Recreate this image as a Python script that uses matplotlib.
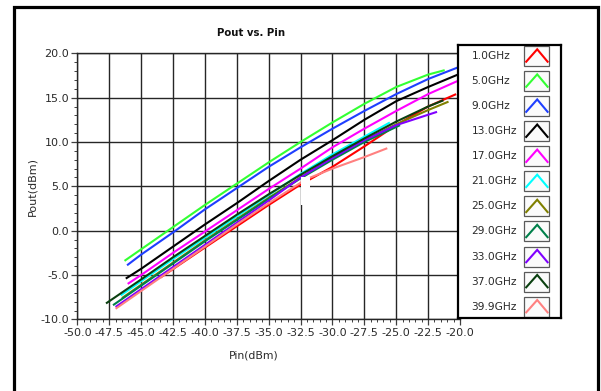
import matplotlib
matplotlib.use("Agg")
import matplotlib.pyplot as plt
import numpy as np
from matplotlib.patches import Rectangle
from matplotlib.ticker import MultipleLocator, FormatStrFormatter

# Output power vs input power, one sweep per frequency
FREQS = ["1.0GHz", "5.0GHz", "9.0GHz", "13.0GHz", "17.0GHz", "21.0GHz",
         "25.0GHz", "29.0GHz", "33.0GHz", "37.0GHz", "39.9GHz"]
COLORS = ["#ff0000", "#33ff33", "#1f3fff", "#000000", "#ff00ff", "#00ffff",
          "#808000", "#00804a", "#8000ff", "#0a4010", "#ff8080"]

PIN_1 = [-43.5, -40, -37.5, -35, -32.5, -30, -27.5, -25, -22.5, -20.3]
POUT_1 = [-5.3, -1.9, 0.5, 2.9, 5.2, 7.2, 9.5, 11.9, 14.0, 15.4]

PIN_5 = [-46.3, -45, -42.5, -40, -37.5, -35, -32.5, -30, -27.5, -25, -22.5, -21.2]
POUT_5 = [-3.4, -2.1, 0.4, 2.9, 5.3, 7.7, 10.0, 12.2, 14.3, 16.2, 17.6, 18.1]

PIN_9 = [-46.1, -45, -42.5, -40, -37.5, -35, -32.5, -30, -27.5, -25, -22.5, -20]
POUT_9 = [-3.9, -2.7, -0.2, 2.4, 4.8, 7.2, 9.4, 11.5, 13.5, 15.4, 17.1, 18.5]

PIN_13 = [-46.2, -45, -42.5, -40, -37.5, -35, -32.5, -30, -27.5, -25, -22.5, -20]
POUT_13 = [-5.4, -4.3, -1.8, 0.7, 3.1, 5.6, 8.0, 10.2, 12.5, 14.6, 16.2, 17.7]

PIN_17 = [-46.05, -45, -42.5, -40, -37.5, -35, -32.5, -30, -27.5, -25, -22.5, -20]
POUT_17 = [-6.0, -5.0, -2.5, -0.1, 2.3, 4.7, 7.0, 9.4, 11.5, 13.5, 15.4, 17.0]

PIN_21 = [-46.6, -45, -42.5, -40, -37.5, -35, -32.5, -30, -27.5, -25.5]
POUT_21 = [-7.3, -5.7, -3.2, -0.8, 1.6, 4.0, 6.4, 8.6, 10.6, 12.2]

PIN_25 = [-46.5, -45, -42.5, -40, -37.5, -35, -32.5, -30, -27.5, -25, -22.5, -20.9]
POUT_25 = [-7.6, -6.1, -3.6, -1.1, 1.3, 3.7, 6.0, 8.2, 10.2, 12.0, 13.6, 14.55]

PIN_29 = [-47.2, -45, -42.5, -40, -37.5, -35, -32.5, -30, -27.5, -24.7]
POUT_29 = [-8.4, -6.2, -3.7, -1.2, 1.2, 3.6, 5.9, 8.0, 10.0, 11.9]

PIN_33 = [-47.0, -45, -42.5, -40, -37.5, -35, -32.5, -30, -27.5, -25, -21.8]
POUT_33 = [-8.6, -6.6, -4.1, -1.6, 0.9, 3.4, 6.0, 8.2, 10.2, 11.9, 13.4]

PIN_37 = [-47.75, -45, -42.5, -40, -37.5, -35, -32.5, -30, -27.5, -25, -22.5, -21.3]
POUT_37 = [-8.2, -5.5, -3.0, -0.6, 1.8, 4.1, 6.3, 8.4, 10.4, 12.3, 14.0, 14.7]

PIN_399 = [-47.0, -45, -42.5, -40, -37.5, -35, -32.5, -31.8, -30, -27.5, -25.7]
POUT_399 = [-8.8, -6.8, -4.3, -1.8, 0.7, 3.1, 5.4, 5.95, 7.0, 8.3, 9.3]

PINS = [PIN_1, PIN_5, PIN_9, PIN_13, PIN_17, PIN_21, PIN_25, PIN_29, PIN_33, PIN_37, PIN_399]
POUTS = [POUT_1, POUT_5, POUT_9, POUT_13, POUT_17, POUT_21, POUT_25, POUT_29, POUT_33, POUT_37, POUT_399]

W, H = 601, 391
TEXT = "#2a2a2a"

fig = plt.figure(figsize=(W / 100, H / 100), dpi=100)

# plot area, placed in pixels
left, right, top, bottom = 77.3, 460, 53.3, 319.4
ax = fig.add_axes([left / W, 1 - bottom / H, (right - left) / W, (bottom - top) / H])

for pin, pout, c in zip(PINS, POUTS, COLORS):
    ax.plot(pin, pout, color=c, lw=1.5, solid_capstyle="butt")

# white block over the curves near -32 dBm
ax.add_patch(Rectangle((-32.47, 2.9), 0.71, 3.15, fc="white", ec="none", zorder=5))

ax.set_xlim(-50, -20)
ax.set_ylim(-10, 20)
ax.xaxis.set_major_locator(MultipleLocator(2.5))
ax.xaxis.set_minor_locator(MultipleLocator(0.5))
ax.yaxis.set_major_locator(MultipleLocator(5))
ax.yaxis.set_minor_locator(MultipleLocator(1))
ax.xaxis.set_major_formatter(FormatStrFormatter("%.1f"))
ax.yaxis.set_major_formatter(FormatStrFormatter("%.1f"))
ax.tick_params(which="major", length=4, width=0.9, color="#404040",
               labelsize=8, labelcolor=TEXT, pad=2)
ax.tick_params(which="minor", length=2.2, width=0.7, color="#404040")
ax.grid(which="major", color="#262626", lw=1.0)
for s in ["left", "bottom", "top"]:
    ax.spines[s].set_color("#262626")
    ax.spines[s].set_linewidth(1.0)
ax.spines["right"].set_visible(False)

fig.text(251 / W, 1 - 33.3 / H, "Pout vs. Pin", ha="center", va="center",
         fontsize=7.3, fontweight="bold", color="#111111")
fig.text(32 / W, 1 - 186 / H, "Pout(dBm)", rotation=90, ha="center", va="center",
         fontsize=8, color=TEXT)
fig.text(254 / W, 1 - 355 / H, "Pin(dBm)", ha="center", va="center",
         fontsize=7.8, color=TEXT)

# outer panel border (open at the bottom edge)
fig.patches.append(Rectangle((13.8 / W, -0.05), (598 - 13.8) / W, 1.05 - 6.6 / H,
                             transform=fig.transFigure, fill=False,
                             ec="black", lw=2.3))

# legend panel drawn in pixel units
lx0, lx1, ly0, ly1 = 458, 561, 45, 318
lax = fig.add_axes([lx0 / W, 1 - ly1 / H, (lx1 - lx0) / W, (ly1 - ly0) / H])
lax.set_xlim(lx0, lx1)
lax.set_ylim(ly1, ly0)
lax.set_xticks([])
lax.set_yticks([])
lax.set_facecolor("white")
for s in lax.spines.values():
    s.set_color("black")
    s.set_linewidth(1.6)

step = 25.07
for i, (name, c) in enumerate(zip(FREQS, COLORS)):
    yc = 56 + step * i
    lax.text(471.5, yc, name, ha="left", va="center", fontsize=7.7, color=TEXT)
    btop = yc - 10
    lax.add_patch(Rectangle((524.3, btop), 25, 20, fc="#fbfbfb", ec="#5a5a5a", lw=0.9))
    lax.plot([526.2, 537.2, 547.6], [btop + 15.7, btop + 3.3, btop + 15.7],
             color=c, lw=1.5, solid_joinstyle="miter")

fig.savefig("out.png", dpi=100)
